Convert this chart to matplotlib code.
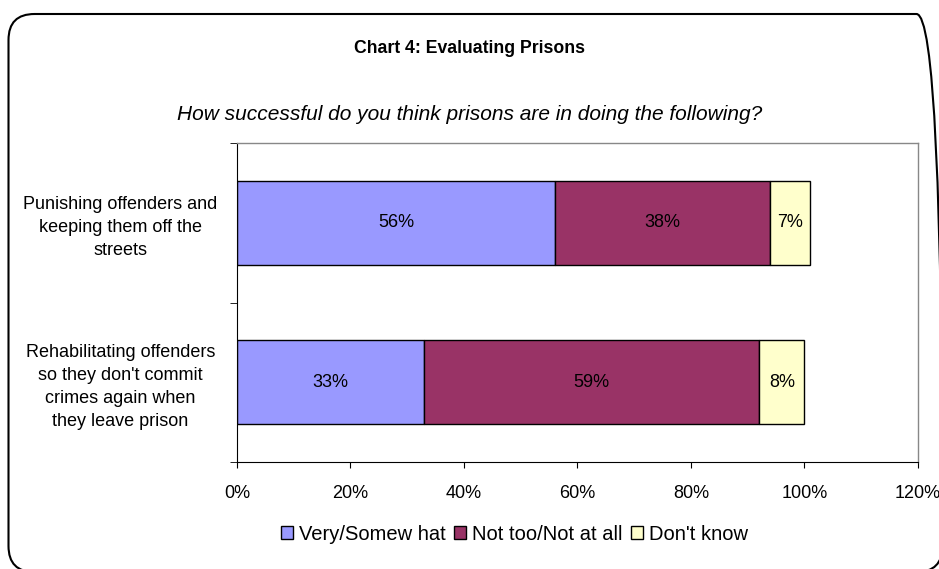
import matplotlib.pyplot as plt
from matplotlib.patches import FancyBboxPatch
from matplotlib.transforms import IdentityTransform

plt.rcParams['font.family'] = ['Liberation Sans', 'DejaVu Sans']

categories = ["Punishing offenders and\nkeeping them off the\nstreets",
              "Rehabilitating offenders\nso they don't commit\ncrimes again when\nthey leave prison"]
series_names = ["Very/Somew hat", "Not too/Not at all", "Don't know"]
very = [56, 33]
not_too = [38, 59]
dont_know = [7, 8]
colors = ["#9999FF", "#993366", "#FFFFCC"]
xticks = [0, 20, 40, 60, 80, 100, 120]

fig = plt.figure(figsize=(9.39, 5.69), dpi=100)

# rounded outer frame, pixel coords (runs off the right and bottom edges)
frame = FancyBboxPatch((8.5, -3), 934, 558, boxstyle="round,pad=0,rounding_size=26",
                       transform=IdentityTransform(), fill=False, edgecolor="black",
                       linewidth=1.5)
fig.patches.append(frame)

ax = fig.add_axes([0.2524, 0.188, 0.7252, 0.5607])

ypos = [1, 0]
left = [0, 0]
for vals, name, col in zip([very, not_too, dont_know], series_names, colors):
    bars = ax.barh(ypos, vals, height=0.525, left=left, color=col, edgecolor="black",
                   linewidth=1.0, label=name)
    for b, v in zip(bars, vals):
        ax.text(b.get_x() + b.get_width() / 2, b.get_y() + b.get_height() / 2, f"{v}%",
                ha="center", va="center", fontsize=13)
    left = [l + v for l, v in zip(left, vals)]

ax.set_xlim(0, 120)
ax.set_ylim(-0.5, 1.5)
ax.set_xticks(xticks)
ax.set_xticklabels([f"{t}%" for t in xticks], fontsize=13)
ax.set_yticks(ypos)
ax.set_yticklabels(categories, fontsize=13, ha="center", multialignment="center",
                   linespacing=1.45)
ax.tick_params(axis="y", length=0, pad=84)
ax.set_yticks([-0.5, 0.5, 1.5], minor=True)
ax.tick_params(axis="y", which="minor", length=5, color="black")
ax.tick_params(axis="x", length=4, color="black", pad=12.5)

for s in ["top", "right"]:
    ax.spines[s].set_color("#888888")
    ax.spines[s].set_linewidth(1.0)
ax.spines["left"].set_color("black")
ax.spines["bottom"].set_color("black")

fig.text(0.5, 0.915, "Chart 4: Evaluating Prisons", ha="center", va="center",
         fontsize=12.7, fontweight="bold")
fig.text(0.5, 0.798, "How successful do you think prisons are in doing the following?",
         ha="center", va="center", fontsize=15, style="italic")

ax.legend(loc="center", bbox_to_anchor=(0.548, 0.0615), bbox_transform=fig.transFigure,
          ncol=3, frameon=False, fontsize=14.5, handlelength=0.6, handleheight=0.6,
          handletextpad=0.3, columnspacing=0.4)

fig.savefig("out.png", dpi=100)
